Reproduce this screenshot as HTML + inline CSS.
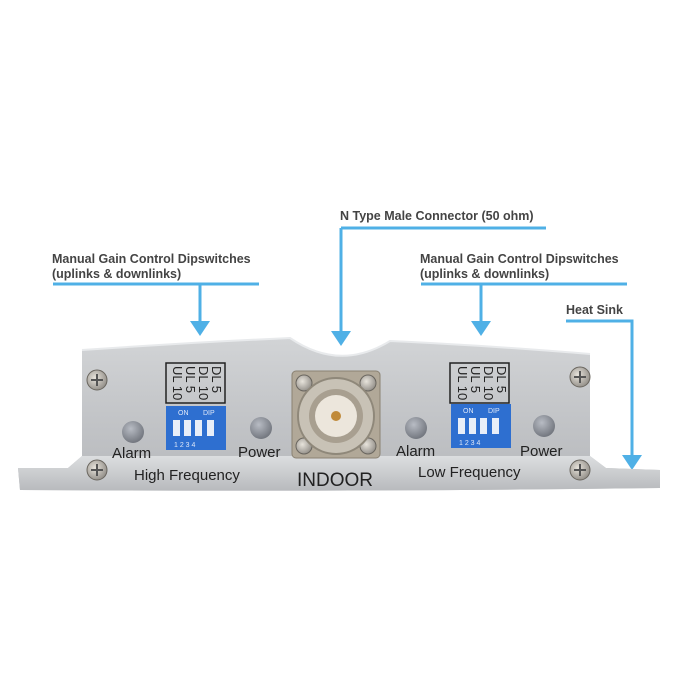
<!DOCTYPE html>
<html><head><style>
body{margin:0;background:#fff}
svg{display:block}
.l{font-family:"Liberation Sans",sans-serif;font-weight:bold;font-size:12.5px;fill:#444}
.p{font-family:"Liberation Sans",sans-serif;fill:#222}
</style></head><body>
<svg width="700" height="700" viewBox="0 0 700 700">
<defs>
<linearGradient id="g" x1="0" y1="0" x2="0" y2="1">
<stop offset="0" stop-color="#d2d4d6"/><stop offset="0.5" stop-color="#c3c5c8"/><stop offset="1" stop-color="#b6b8bb"/></linearGradient>
<linearGradient id="f" x1="0" y1="0" x2="0" y2="1">
<stop offset="0" stop-color="#dcdee0"/><stop offset="1" stop-color="#b8babd"/></linearGradient>
<radialGradient id="led" cx="0.4" cy="0.35" r="0.7"><stop offset="0" stop-color="#b8bcc4"/><stop offset="1" stop-color="#6e727a"/></radialGradient>
<radialGradient id="scr" cx="0.4" cy="0.4" r="0.7"><stop offset="0" stop-color="#e8e4dc"/><stop offset="1" stop-color="#8a8680"/></radialGradient>
</defs>
<text class="l" x="52" y="263">Manual Gain Control Dipswitches</text>
<text class="l" x="52" y="278">(uplinks &amp; downlinks)</text>
<text class="l" x="340" y="220">N Type Male Connector (50 ohm)</text>
<text class="l" x="420" y="263">Manual Gain Control Dipswitches</text>
<text class="l" x="420" y="278">(uplinks &amp; downlinks)</text>
<text class="l" x="566" y="314">Heat Sink</text>
<g stroke="#4fb0e6" stroke-width="3" fill="none">
<path d="M53 284H259M200 284V322"/>
<path d="M341 228H546M341 228V332"/>
<path d="M421 284H627M481 284V322"/>
<path d="M566 321H632V456"/>
</g>
<g fill="#4fb0e6">
<path d="M190 321H210L200 336Z"/>
<path d="M331 331H351L341 346Z"/>
<path d="M471 321H491L481 336Z"/>
<path d="M622 455H642L632 470Z"/>
</g>
<path d="M18 468L68 468L82 456L82 350Q200 342 290 338Q340 372 390 341Q480 345 590 354L590 456L606 468L660 470L660 488Q350 492 20 490Z" fill="url(#g)"/>
<path d="M18 468L68 468L82 456L590 456L606 468L660 470L660 488Q350 492 20 490Z" fill="url(#f)"/>
<path d="M82 350Q200 342 290 338Q340 372 390 341Q480 345 590 354" stroke="#e8eaec" stroke-width="2" fill="none"/>
<g fill="url(#scr)" stroke="#6a665f" stroke-width="1">
<circle cx="97" cy="380" r="10"/><circle cx="97" cy="470" r="10"/>
<circle cx="580" cy="377" r="10"/><circle cx="580" cy="470" r="10"/>
</g>
<g stroke="#555" stroke-width="2">
<path d="M91 380h12M97 374v12M91 470h12M97 464v12M574 377h12M580 371v12M574 470h12M580 464v12"/>
</g>
<rect x="292" y="371" width="88" height="87" rx="4" fill="#b1a898" stroke="#8a8272"/>
<g fill="url(#scr)" stroke="#6a665f"><circle cx="304" cy="383" r="8"/><circle cx="368" cy="383" r="8"/><circle cx="304" cy="446" r="8"/><circle cx="368" cy="446" r="8"/></g>
<circle cx="336" cy="416" r="38" fill="#c8c2b6" stroke="#8f887a" stroke-width="2"/>
<circle cx="336" cy="416" r="27" fill="#a89f90"/>
<circle cx="336" cy="416" r="21" fill="#ece6dc"/>
<circle cx="336" cy="416" r="5" fill="#c08a3a"/>
<rect x="166" y="363" width="59" height="40" fill="none" stroke="#222" stroke-width="1.5"/>
<g class="p" font-size="13">
<text transform="translate(212,366) rotate(90)">DL 5</text>
<text transform="translate(199,366) rotate(90)">DL 10</text>
<text transform="translate(186,366) rotate(90)">UL 5</text>
<text transform="translate(173,366) rotate(90)">UL 10</text>
<text transform="translate(497,366) rotate(90)">DL 5</text>
<text transform="translate(484,366) rotate(90)">DL 10</text>
<text transform="translate(471,366) rotate(90)">UL 5</text>
<text transform="translate(458,366) rotate(90)">UL 10</text>
</g>
<rect x="450" y="363" width="59" height="40" fill="none" stroke="#222" stroke-width="1.5"/>
<rect x="166" y="406" width="60" height="44" fill="#2e6fd0"/>
<rect x="451" y="404" width="60" height="44" fill="#2e6fd0"/>
<g fill="#e8eef8">
<rect x="173" y="420" width="7" height="16"/><rect x="184" y="420" width="7" height="16"/><rect x="195" y="420" width="7" height="16"/><rect x="207" y="420" width="7" height="16"/>
<rect x="458" y="418" width="7" height="16"/><rect x="469" y="418" width="7" height="16"/><rect x="480" y="418" width="7" height="16"/><rect x="492" y="418" width="7" height="16"/>
</g>
<g font-family="Liberation Sans,sans-serif" font-size="7" fill="#dfe8f8">
<text x="178" y="415">ON</text><text x="203" y="415">DIP</text>
<text x="174" y="447">1  2  3  4</text>
<text x="463" y="413">ON</text><text x="488" y="413">DIP</text>
<text x="459" y="445">1  2  3  4</text>
</g>
<g fill="url(#led)"><circle cx="133" cy="432" r="11"/><circle cx="261" cy="428" r="11"/><circle cx="416" cy="428" r="11"/><circle cx="544" cy="426" r="11"/></g>
<g class="p" font-size="15">
<text x="112" y="458">Alarm</text><text x="238" y="457">Power</text>
<text x="134" y="480">High Frequency</text>
<text x="396" y="456">Alarm</text><text x="520" y="456">Power</text>
<text x="418" y="477">Low Frequency</text>
<text x="297" y="486" font-size="19">INDOOR</text>
</g>
</svg>
</body></html>
